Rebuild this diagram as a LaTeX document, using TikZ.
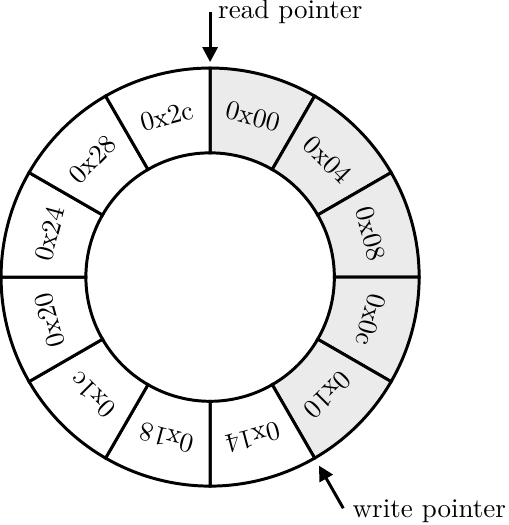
\documentclass[tikz,border=0pt]{standalone}
\usetikzlibrary{arrows.meta}
\definecolor{bufgray}{rgb}{0.92, 0.92, 0.92}

\tikzset{
	slot/.style={draw, line width=1.1pt},
	ptr/.style={-{Triangle[length=5.5pt, width=5.5pt]}, line width=1.1pt},
	ptrlabel/.style={anchor=base west, inner sep=0pt},
}

\begin{document}
\begin{tikzpicture}
			\useasboundingbox (-77.8pt,-91.8pt) rectangle (110.3pt,102.6pt);
			\def\Rout{77.4pt}
			\def\Rin{46pt}

			% Slots of the ring buffer (first five are filled)
			\foreach \i/\lab in {0/0x00,1/0x04,2/0x08,3/0x0c,4/0x10,5/0x14,6/0x18,7/0x1c,8/0x20,9/0x24,10/0x28,11/0x2c} {
				\pgfmathsetmacro{\a}{90-30*\i}
				\pgfmathsetmacro{\b}{60-30*\i}
				\pgfmathsetmacro{\m}{75-30*\i}
				\ifnum\i<5 \def\col{bufgray}\else\def\col{white}\fi
				\draw[slot, fill=\col] (\a:\Rout) arc[start angle=\a, end angle=\b, radius=\Rout]
					-- (\b:\Rin) arc[start angle=\b, end angle=\a, radius=\Rin] -- cycle;
				\node[rotate=\m-90] (s\i) at (\m:61.5pt) {\lab};
			}

			% Read pointer
			\coordinate (rtail) at (0,98.1pt);
			\coordinate (rtip) at (90:79.6pt);
			\node[ptrlabel] (rlbl) at (2.8pt,95.9pt) {read pointer};
			\draw[ptr] (rtail) -- (rtip);

			% Write pointer
			\coordinate (wtail) at (49.3pt,-85.6pt);
			\coordinate (wtip) at (-60:80.6pt);
			\node[ptrlabel] (wlbl) at (52.6pt,-88.9pt) {write pointer};
			\draw[ptr] (wtail) -- (wtip);
		\end{tikzpicture}
\end{document}
